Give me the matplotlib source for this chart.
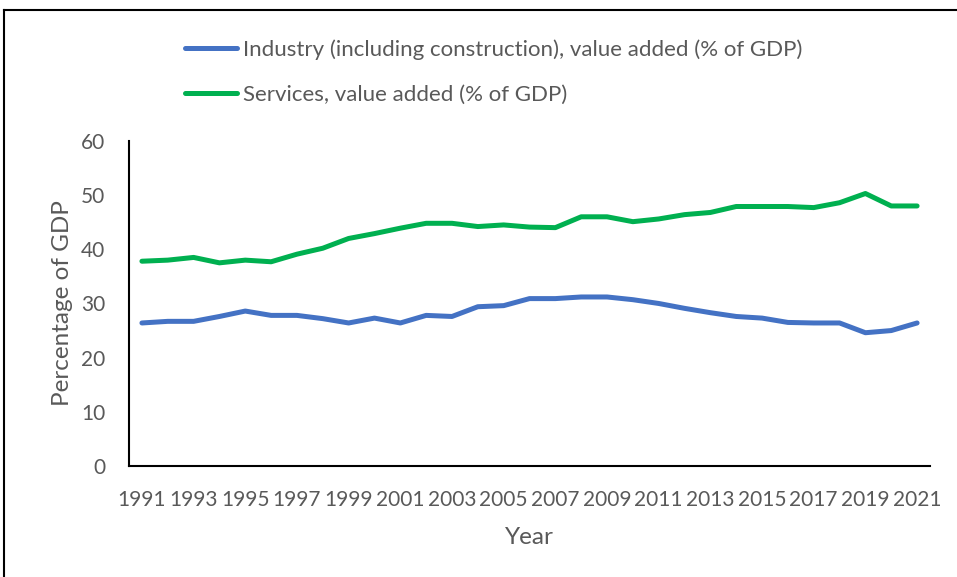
import matplotlib
matplotlib.use("Agg")
import matplotlib.pyplot as plt
from matplotlib.lines import Line2D

plt.rcParams['font.family'] = ['Lato', 'DejaVu Sans']

# data
years = list(range(1991, 2022))
industry = [26.4, 26.7, 26.7, 27.6, 28.6, 27.8, 27.8, 27.2, 26.4, 27.3,
            26.4, 27.8, 27.6, 29.4, 29.6, 30.9, 30.9, 31.2, 31.2, 30.7,
            30.0, 29.1, 28.3, 27.6, 27.3, 26.5, 26.4, 26.4, 24.6, 25.0,
            26.4]
services = [37.8, 38.0, 38.5, 37.5, 38.0, 37.7, 39.1, 40.2, 42.0, 42.9,
            43.9, 44.8, 44.8, 44.2, 44.5, 44.1, 44.0, 46.0, 46.0, 45.1,
            45.6, 46.4, 46.8, 47.9, 47.9, 47.9, 47.7, 48.6, 50.3, 48.0,
            48.0]
labels = ['Industry (including construction), value added (% of GDP)',
          'Services, value added (% of GDP)']
colors = ['#4472C4', '#00B050']
yticks = [0, 10, 20, 30, 40, 50, 60]

text_col = '#595959'
fs_tick = 15
fs_title = 17.5
fs_leg = 16

fig = plt.figure(figsize=(9.57, 5.77), dpi=100)
ax = fig.add_axes([0.1348, 0.1924, 0.837, 0.5633])

ax.plot(years, industry, color=colors[0], lw=3.6, solid_capstyle='round',
        solid_joinstyle='round', label=labels[0])
ax.plot(years, services, color=colors[1], lw=3.6, solid_capstyle='round',
        solid_joinstyle='round', label=labels[1])

ax.set_xlim(years[0] - 0.5, years[-1] + 0.5)
ax.set_ylim(0, 60)
ax.set_yticks(yticks)
ax.set_xticks(years[::2])
ax.tick_params(length=0, labelsize=fs_tick, labelcolor=text_col)
ax.tick_params(axis='y', pad=17)
ax.tick_params(axis='x', pad=17)

for s in ['top', 'right']:
    ax.spines[s].set_visible(False)
for s in ['left', 'bottom']:
    ax.spines[s].set_linewidth(1.5)
    ax.spines[s].set_color('black')

ax.set_xlabel('Year', fontsize=fs_title, color=text_col, va='center')
ax.xaxis.set_label_coords(0.5, -0.2215)
ax.set_ylabel('Percentage of GDP', fontsize=fs_title, color=text_col,
              va='center')
ax.yaxis.set_label_coords(-0.0836, 0.5)

handles = [Line2D([], [], color=c, lw=3.6, solid_capstyle='round') for c in colors]
fig.legend(handles, labels, loc='upper left', bbox_to_anchor=(0.1938, 0.9324),
           frameon=False, fontsize=fs_leg, labelcolor=text_col, handlelength=2.3,
           handletextpad=0.29, labelspacing=1.13, borderpad=0, borderaxespad=0)

# outer chart border (only top and left edges visible)
fig.add_artist(Line2D([0.004, 1.0], [0.983, 0.983], color='black', lw=1.5,
                      transform=fig.transFigure))
fig.add_artist(Line2D([0.004, 0.004], [0.0, 0.983], color='black', lw=1.5,
                      transform=fig.transFigure))

fig.savefig('out.png', dpi=100)
